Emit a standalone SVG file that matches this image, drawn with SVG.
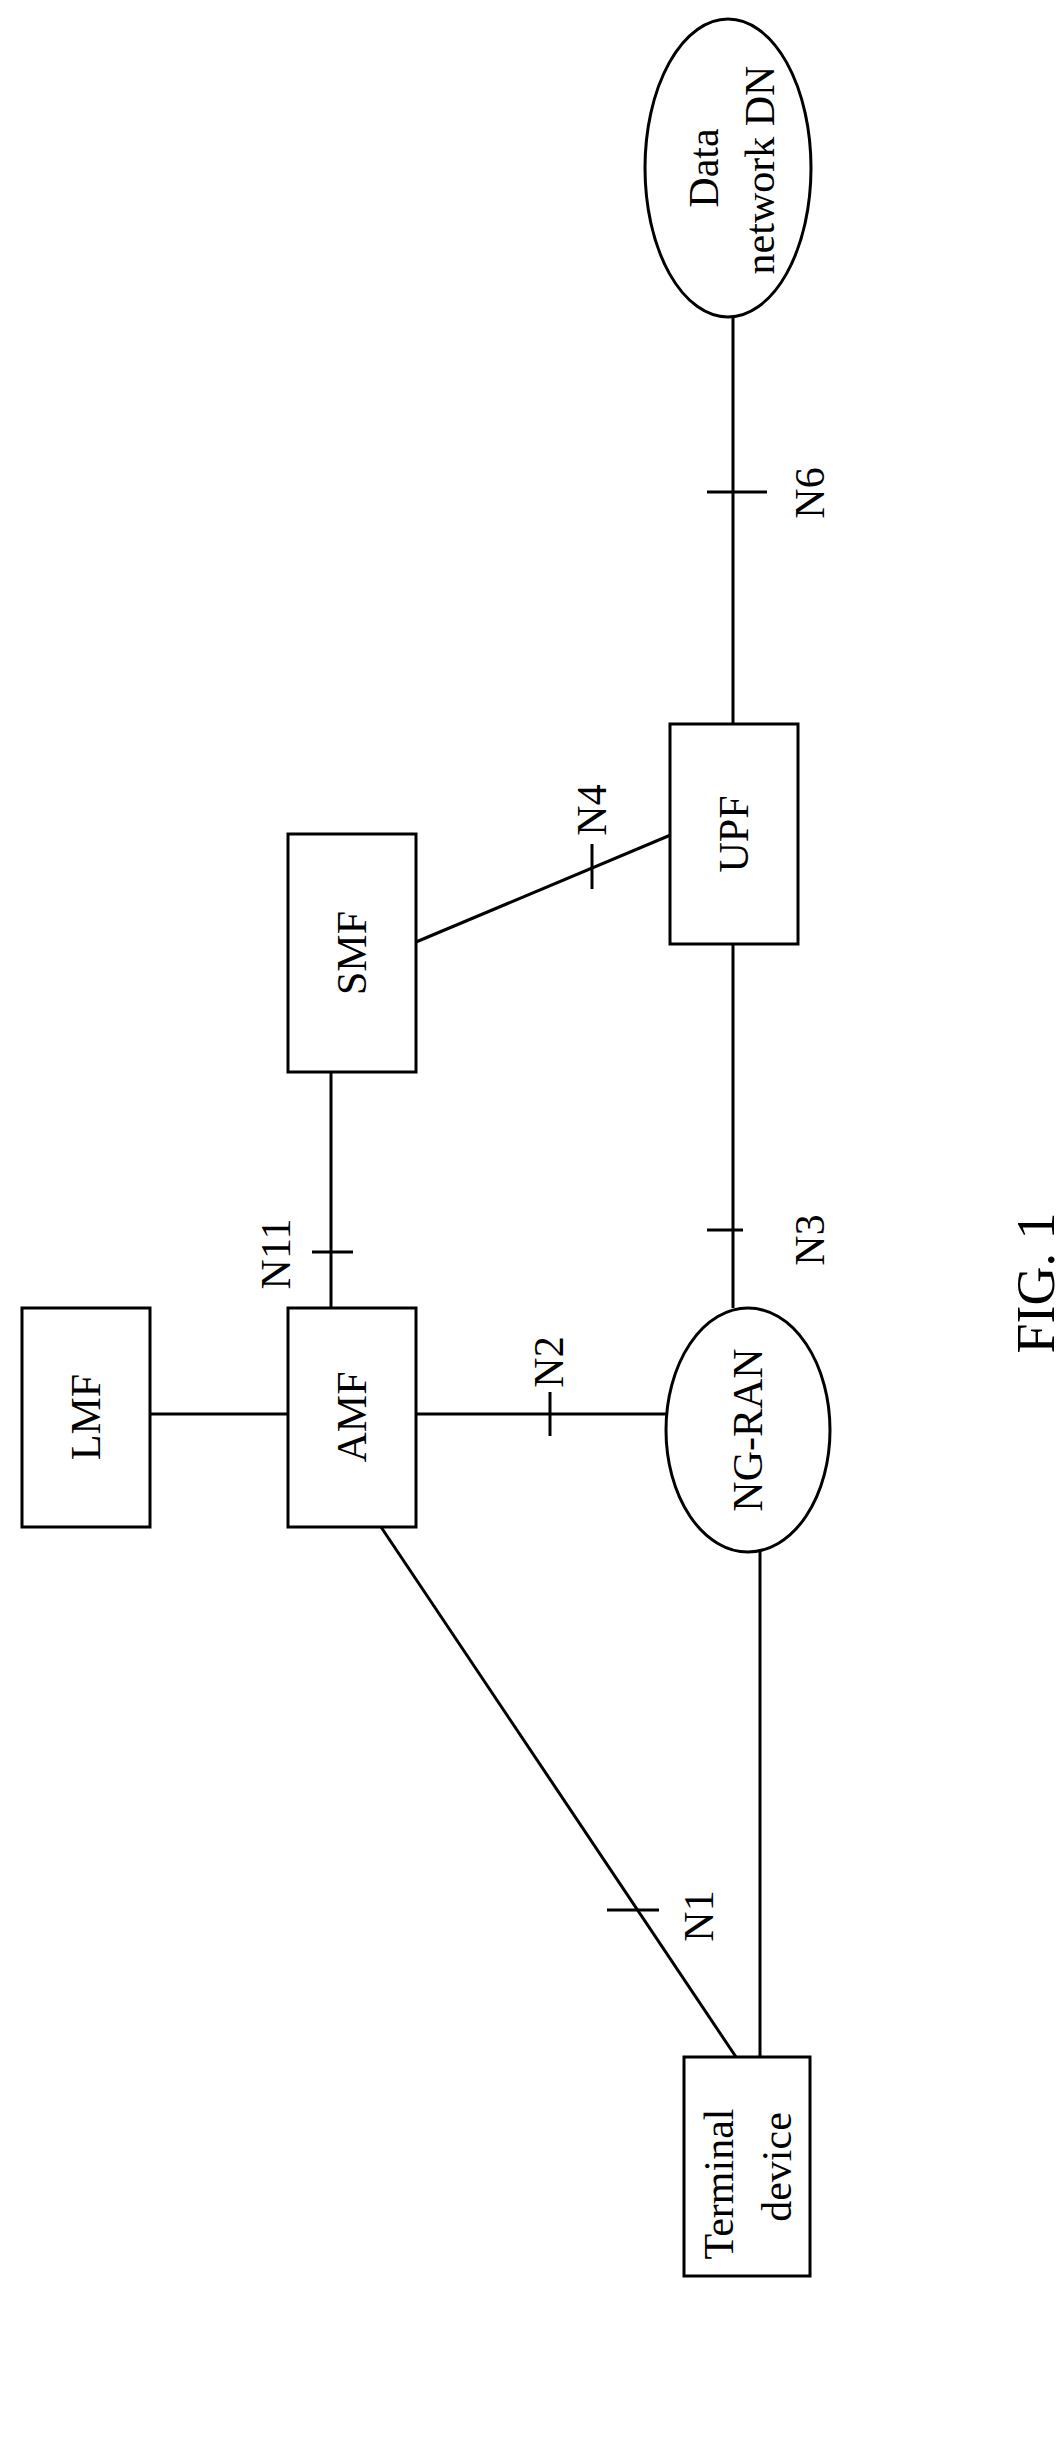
<svg xmlns="http://www.w3.org/2000/svg" width="1064" height="2443" viewBox="0 0 1064 2443">
<style>
.n{fill:#fff;stroke:#000;stroke-width:3}
.c line{stroke:#000;stroke-width:3}
text{font-family:'Liberation Serif','Times New Roman',serif;font-size:42px;fill:#000;text-anchor:middle;dominant-baseline:central}
.f{font-size:54px}
</style>
<rect width="1064" height="2443" fill="#fff"/>
<g class="c" id="connectors">
<line x1="733" y1="317" x2="733" y2="724"/>
<line x1="707" y1="492" x2="767" y2="492"/>
<line x1="416" y1="942" x2="673" y2="834"/>
<line x1="592" y1="844" x2="592" y2="889"/>
<line x1="733" y1="944" x2="733" y2="1308"/>
<line x1="707" y1="1230" x2="743" y2="1230"/>
<line x1="331" y1="1072" x2="331" y2="1308"/>
<line x1="312" y1="1252" x2="353" y2="1252"/>
<line x1="150" y1="1414" x2="288" y2="1414"/>
<line x1="416" y1="1414" x2="666" y2="1414"/>
<line x1="550" y1="1392" x2="550" y2="1436"/>
<line x1="760" y1="1551" x2="760" y2="2057"/>
<line x1="381" y1="1527" x2="736" y2="2057"/>
<line x1="607" y1="1910" x2="659" y2="1910"/>
</g>
<g id="dn"><ellipse class="n" cx="728" cy="168" rx="83" ry="149"/>
<text transform="rotate(-90 704 168)" x="704" y="168">Data</text>
<text transform="rotate(-90 760 170)" x="760" y="170">network DN</text></g>
<g id="upf"><rect class="n" x="670" y="724" width="128" height="220"/><text transform="rotate(-90 734 834)" x="734" y="834">UPF</text></g>
<g id="smf"><rect class="n" x="288" y="834" width="128" height="238"/><text transform="rotate(-90 352 953)" x="352" y="953">SMF</text></g>
<g id="amf"><rect class="n" x="288" y="1308" width="128" height="219"/><text transform="rotate(-90 352 1417)" x="352" y="1417">AMF</text></g>
<g id="lmf"><rect class="n" x="22" y="1308" width="128" height="219"/><text transform="rotate(-90 86 1417)" x="86" y="1417">LMF</text></g>
<g id="ngran"><ellipse class="n" cx="748" cy="1430" rx="82" ry="122"/><text transform="rotate(-90 748 1430)" x="748" y="1430">NG-RAN</text></g>
<g id="terminal"><rect class="n" x="684" y="2057" width="126" height="219"/>
<text transform="rotate(-90 719 2184)" x="719" y="2184">Terminal</text>
<text transform="rotate(-90 777 2167)" x="777" y="2167">device</text></g>
<g id="labels">
<text transform="rotate(-90 810 493)" x="810" y="493">N6</text>
<text transform="rotate(-90 592 810)" x="592" y="810">N4</text>
<text transform="rotate(-90 810 1240)" x="810" y="1240">N3</text>
<text transform="rotate(-90 276 1254)" x="276" y="1254">N11</text>
<text transform="rotate(-90 549 1362)" x="549" y="1362">N2</text>
<text transform="rotate(-90 699 1916)" x="699" y="1916">N1</text>
<text class="f" transform="rotate(-90 1036 1283)" x="1036" y="1283">FIG. 1</text>
</g>
</svg>
